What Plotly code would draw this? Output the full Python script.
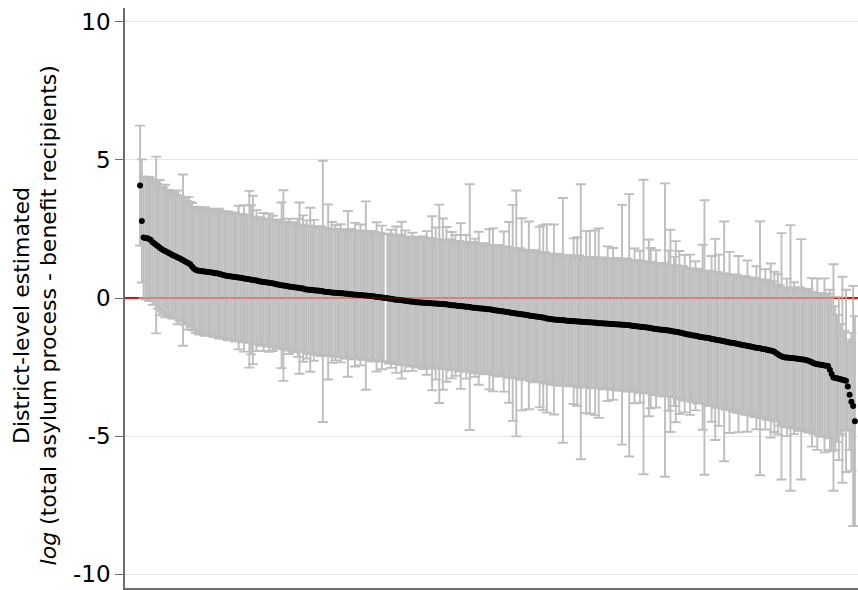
import plotly.graph_objects as go

# Point estimates per district, sorted
estimates = [
    4.07, 2.79, 2.19, 2.17, 2.16, 2.14, 2.10, 2.02, 1.97, 1.92,
    1.87, 1.82, 1.77, 1.73, 1.70, 1.67, 1.63, 1.60, 1.56, 1.53,
    1.50, 1.47, 1.44, 1.40, 1.37, 1.33, 1.29, 1.26, 1.22, 1.14,
    1.07, 1.02, 1.00, 0.99, 0.98, 0.97, 0.96, 0.95, 0.94, 0.93,
    0.92, 0.91, 0.90, 0.90, 0.88, 0.86, 0.84, 0.82, 0.81, 0.80,
    0.79, 0.78, 0.77, 0.76, 0.75, 0.74, 0.73, 0.72, 0.71, 0.70,
    0.69, 0.68, 0.66, 0.65, 0.64, 0.63, 0.62, 0.60, 0.59, 0.58,
    0.57, 0.56, 0.55, 0.54, 0.53, 0.52, 0.50, 0.49, 0.47, 0.46,
    0.45, 0.44, 0.43, 0.42, 0.41, 0.40, 0.39, 0.38, 0.37, 0.36,
    0.35, 0.34, 0.32, 0.31, 0.30, 0.30, 0.29, 0.28, 0.27, 0.27,
    0.26, 0.25, 0.24, 0.23, 0.22, 0.22, 0.21, 0.20, 0.19, 0.19,
    0.18, 0.18, 0.17, 0.17, 0.16, 0.15, 0.15, 0.14, 0.14, 0.13,
    0.12, 0.12, 0.11, 0.11, 0.10, 0.09, 0.09, 0.08, 0.07, 0.07,
    0.06, 0.05, 0.04, 0.04, 0.03, 0.02, 0.01, 0.00, -0.01, -0.02,
    -0.03, -0.04, -0.05, -0.06, -0.06, -0.07, -0.08, -0.09, -0.10, -0.11,
    -0.12, -0.13, -0.14, -0.14, -0.15, -0.15, -0.16, -0.16, -0.17, -0.17,
    -0.18, -0.18, -0.19, -0.19, -0.20, -0.20, -0.21, -0.21, -0.22, -0.22,
    -0.23, -0.23, -0.24, -0.25, -0.26, -0.26, -0.27, -0.28, -0.29, -0.29,
    -0.30, -0.31, -0.32, -0.32, -0.33, -0.34, -0.35, -0.35, -0.36, -0.37,
    -0.38, -0.38, -0.39, -0.40, -0.41, -0.41, -0.42, -0.43, -0.44, -0.45,
    -0.46, -0.47, -0.48, -0.49, -0.50, -0.51, -0.52, -0.53, -0.54, -0.55,
    -0.56, -0.57, -0.58, -0.59, -0.60, -0.61, -0.62, -0.63, -0.64, -0.65,
    -0.66, -0.67, -0.68, -0.69, -0.70, -0.71, -0.72, -0.74, -0.75, -0.76,
    -0.77, -0.78, -0.79, -0.79, -0.80, -0.80, -0.81, -0.81, -0.82, -0.82,
    -0.83, -0.83, -0.84, -0.84, -0.85, -0.85, -0.86, -0.86, -0.87, -0.87,
    -0.88, -0.88, -0.89, -0.89, -0.90, -0.90, -0.91, -0.91, -0.91, -0.92,
    -0.92, -0.93, -0.93, -0.94, -0.94, -0.95, -0.95, -0.96, -0.96, -0.97,
    -0.97, -0.98, -0.98, -0.99, -1.00, -1.01, -1.01, -1.02, -1.03, -1.04,
    -1.05, -1.05, -1.06, -1.07, -1.08, -1.09, -1.10, -1.11, -1.12, -1.13,
    -1.14, -1.15, -1.15, -1.16, -1.17, -1.18, -1.19, -1.20, -1.21, -1.22,
    -1.23, -1.25, -1.26, -1.28, -1.29, -1.31, -1.32, -1.33, -1.35, -1.36,
    -1.37, -1.38, -1.40, -1.41, -1.42, -1.43, -1.44, -1.45, -1.46, -1.48,
    -1.49, -1.50, -1.52, -1.53, -1.54, -1.56, -1.57, -1.58, -1.59, -1.61,
    -1.62, -1.63, -1.64, -1.66, -1.67, -1.68, -1.70, -1.71, -1.72, -1.74,
    -1.75, -1.76, -1.77, -1.79, -1.80, -1.81, -1.82, -1.84, -1.85, -1.86,
    -1.88, -1.89, -1.90, -1.92, -1.95, -1.99, -2.04, -2.08, -2.11, -2.14,
    -2.15, -2.15, -2.16, -2.17, -2.17, -2.18, -2.19, -2.20, -2.21, -2.22,
    -2.23, -2.24, -2.25, -2.27, -2.30, -2.33, -2.36, -2.38, -2.40, -2.41,
    -2.42, -2.43, -2.44, -2.45, -2.46, -2.60, -2.75, -2.88, -2.90, -2.91,
    -2.92, -2.94, -2.96, -2.98, -3.00, -3.20, -3.50, -3.76, -3.91, -4.46,
]

# Half-width of each district's interval (None = interval not shown)
half_widths = [
    2.17, 2.23, 2.20, 2.22, 2.19, 2.24, 2.21, 2.26, 2.22, 3.20,
    2.25, 2.45, 2.23, 2.27, 2.40, 2.24, 2.28, 2.22, 2.30, 2.26,
    2.24, 2.42, 2.27, 2.25, 3.10, 2.29, 2.23, 2.40, 2.26, 2.30,
    2.24, 2.28, 2.25, 2.31, 2.23, 2.27, 2.33, 2.26, 2.29, 2.24,
    2.28, 2.32, 2.26, 2.30, 2.35, 2.27, 2.31, 2.25, 2.29, 2.33,
    2.27, 2.30, 2.26, 2.34, 2.28, 2.60, 2.29, 2.32, 2.65, 2.27,
    2.31, 3.20, 2.70, 3.05, 2.30, 2.55, 2.28, 2.33, 2.26, 2.50,
    2.29, 2.32, 2.50, 2.27, 2.45, 2.30, 2.34, 2.28, 2.31, 3.00,
    3.45, 2.29, 2.33, 2.45, 2.27, 2.31, 2.35, 2.28, 2.50, 3.10,
    2.30, 2.65, 2.27, 2.50, 2.32, 2.97, 2.29, 2.55, 2.33, 2.28,
    2.31, 2.35, 4.73, 2.29, 2.32, 3.17, 2.28, 2.55, 2.30, 2.45,
    2.33, 2.29, 2.50, 2.31, 2.27, 2.34, 3.00, 2.30, 2.36, 2.28,
    2.60, 2.32, 2.29, 2.55, 2.35, 2.30, 3.41, 2.33, 2.28, 2.36,
    2.31, 2.34, 2.70, 2.29, 2.33, 2.60, 2.30, None, 2.32, 2.35,
    2.50, 2.30, 2.34, 2.65, 2.31, 2.36, 2.84, 2.29, 2.55, 2.33,
    2.30, 2.35, 2.50, 2.32, 2.28, 2.37, 2.31, 2.34, 2.40, 2.30,
    2.60, 2.33, 2.36, 3.15, 2.31, 2.75, 2.35, 3.59, 2.32, 3.10,
    2.34, 2.80, 2.30, 2.37, 2.65, 2.33, 2.55, 2.31, 2.36, 3.00,
    2.32, 2.35, 2.60, 2.30, 4.45, 2.34, 2.38, 2.50, 2.31, 2.77,
    2.35, 2.32, 2.37, 2.30, 2.34, 2.90, 2.33, 2.95, 2.36, 2.31,
    2.38, 2.33, 2.35, 2.90, 2.32, 2.37, 3.27, 2.34, 3.91, 2.36,
    4.45, 2.33, 2.38, 3.48, 2.31, 2.36, 2.34, 3.40, 2.37, 2.32,
    2.39, 2.34, 2.36, 3.27, 2.33, 3.35, 2.38, 3.41, 2.35, 2.32,
    2.37, 3.44, 2.34, 2.39, 2.31, 2.36, 4.43, 2.33, 2.38, 2.35,
    2.32, 2.37, 3.00, 2.34, 3.05, 2.39, 4.98, 2.33, 2.36, 3.30,
    2.34, 3.31, 2.38, 2.35, 3.35, 2.32, 3.43, 2.37, 2.34, 2.39,
    2.36, 2.80, 2.33, 2.38, 2.75, 2.35, 2.40, 2.34, 2.37, 4.34,
    2.39, 2.35, 2.41, 4.75, 2.36, 2.38, 2.80, 2.34, 2.40, 2.75,
    2.37, 5.33, 2.39, 2.36, 3.20, 2.90, 2.41, 2.38, 2.85, 2.35,
    2.40, 2.37, 2.42, 5.31, 2.38, 2.90, 3.66, 2.39, 2.70, 3.28,
    2.41, 2.95, 2.38, 2.43, 2.85, 2.40, 2.37, 2.90, 2.42, 2.39,
    2.70, 2.44, 2.40, 2.38, 3.35, 4.97, 2.43, 2.41, 2.45, 3.00,
    2.42, 3.64, 2.46, 3.10, 2.41, 2.44, 4.34, 2.47, 2.43, 3.28,
    2.45, 2.48, 2.44, 2.50, 3.19, 2.46, 2.49, 2.45, 2.51, 3.10,
    2.47, 2.50, 2.46, 2.52, 2.95, 2.48, 4.60, 2.51, 2.47, 2.90,
    2.53, 2.49, 3.15, 2.52, 2.90, 2.48, 2.90, 2.54, 4.46, 2.50,
    2.53, 2.85, 2.49, 4.81, 2.55, 2.75, 2.51, 2.56, 2.60, 4.35,
    2.52, 2.58, 2.55, 2.60, 2.53, 3.05, 2.57, 2.54, 3.10, 2.58,
    2.55, 2.60, 3.15, 2.57, 2.62, 2.90, 2.80, 4.10, 2.60, 2.30,
    2.95, 2.00, 3.73, 1.80, 3.30, 1.60, 2.00, 2.50, 4.35, 3.80,
]

if len(estimates) != len(half_widths):
    raise ValueError(f"length mismatch {len(estimates)} {len(half_widths)}")

district_rank = list(range(1, len(estimates) + 1))

y_ticks = [-10, -5, 0, 5, 10]
y_tick_labels = ["-10", "-5", "0", "5", "10"]
reference_level = 0
title_line1 = "District-level estimated"
title_line2 = "<i>log</i> (total asylum process - benefit recipients)"

FONT = "DejaVu Sans"

fig = go.Figure()
fig.add_trace(go.Scatter(
    x=district_rank,
    y=estimates,
    mode="markers",
    marker=dict(color="black", size=6, line=dict(width=0)),
    error_y=dict(type="data", array=half_widths, symmetric=True,
                 color="#bebebe", thickness=1.9, width=5),
    showlegend=False,
    hoverinfo="skip",
))

# faint red reference line showing through the interval band
fig.add_hline(y=reference_level, line=dict(color="#ff0000", width=1.5),
              opacity=0.35, layer="above")

fig.update_layout(
    width=858, height=590,
    margin=dict(l=125, r=0, t=8, b=2),
    paper_bgcolor="white", plot_bgcolor="white",
    font=dict(family=FONT, color="black"),
    xaxis=dict(
        range=[-7.4, 401.7], showgrid=False, zeroline=False,
        showticklabels=False, ticks="", showline=True,
        linecolor="#6e6e6e", linewidth=1.5,
    ),
    yaxis=dict(
        range=[-10.5, 10.5], tickvals=y_ticks, ticktext=y_tick_labels,
        ticks="outside", ticklen=8, tickwidth=1.2, tickcolor="#6e6e6e",
        tickfont=dict(family=FONT, size=23, color="black"),
        showgrid=True, gridcolor="#e6e6e6", gridwidth=1.2,
        zeroline=True, zerolinecolor="#ff0000", zerolinewidth=2,
        showline=True, linecolor="#6e6e6e", linewidth=1.5,
    ),
    annotations=[
        dict(text=title_line1, x=-0.141, y=0.47, xref="paper", yref="paper",
             xanchor="center", yanchor="middle", textangle=-90, showarrow=False,
             font=dict(family=FONT, size=22, color="black")),
        dict(text=title_line2, x=-0.105, y=0.47, xref="paper", yref="paper",
             xanchor="center", yanchor="middle", textangle=-90, showarrow=False,
             font=dict(family=FONT, size=22, color="black")),
    ],
)

fig.write_html("out.html", config={"displayModeBar": False},
               post_script="document.body.style.margin='0';")
